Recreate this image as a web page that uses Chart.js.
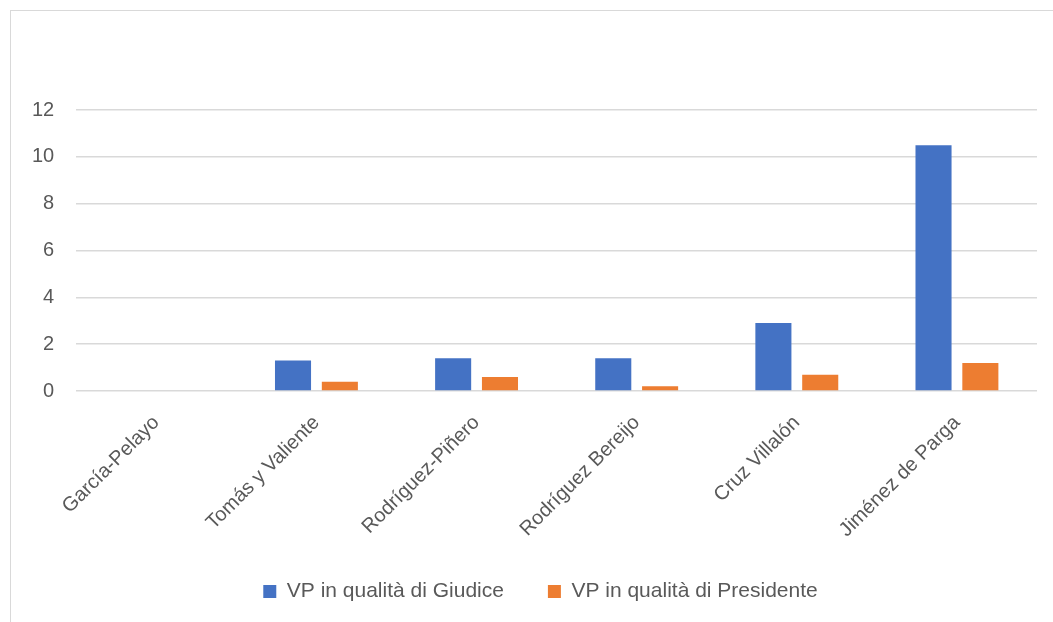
<!DOCTYPE html>
<html>
<head>
<meta charset="utf-8">
<script src="https://cdn.jsdelivr.net/npm/chart.js@4/dist/chart.umd.min.js"></script>
<style>
  html, body { margin: 0; padding: 0; background: #fff; }
  #frame {
    position: absolute; left: 10px; top: 10px; width: 1043px; height: 612px;
    border-left: 1px solid #d9d9d9; border-top: 1px solid #d9d9d9;
  }
  #wrap { position: absolute; left: 0; top: 0; width: 1053px; height: 622px; }
</style>
</head>
<body>
<div id="frame"></div>
<div id="wrap"><canvas id="chart"></canvas></div>
<script>
const categories = [
  "García-Pelayo",
  "Tomás y Valiente",
  "Rodríguez-Piñero",
  "Rodríguez Bereijo",
  "Cruz Villalón",
  "Jiménez de Parga",
];
const giudiceValues = [0, 1.3, 1.4, 1.4, 2.9, 10.5];
const presidenteValues = [0, 0.4, 0.6, 0.2, 0.7, 1.2];
const yTicks = [0, 2, 4, 6, 8, 10, 12];

const FONT = "'Liberation Sans', Arial, sans-serif";
const TEXT_COLOR = "#595959";

// move the legend a bit right and up, like the original
const legendShift = {
  id: "legendShift",
  afterLayout: (chart) => {
    chart.legend.left += 17;
    chart.legend.right += 17;
    chart.legend.top -= 17;
    chart.legend.bottom -= 17;
  },
};

/*************************************************************
 * Chart
 *************************************************************/
const renderChart = () => {
  const ctx = document.getElementById("chart").getContext("2d");

  new Chart(ctx, {
    type: "bar",
    data: {
      labels: categories,
      datasets: [
        {
          label: "VP in qualità di Giudice",
          data: giudiceValues,
          backgroundColor: "#4472C4",
        },
        {
          label: "VP in qualità di Presidente",
          data: presidenteValues,
          backgroundColor: "#ED7D31",
        },
      ],
    },
    plugins: [legendShift],
    options: {
      animation: false,
      responsive: true,
      maintainAspectRatio: false,
      categoryPercentage: 0.585,
      barPercentage: 0.77,
      layout: {
        padding: { left: 10, right: 16, top: 110, bottom: -7 },
      },
      plugins: {
        legend: {
          position: "bottom",
          labels: {
            boxWidth: 13,
            boxHeight: 13,
            padding: 44,
            color: TEXT_COLOR,
            font: { family: FONT, size: 21 },
          },
        },
        tooltip: { enabled: false },
      },
      scales: {
        x: {
          border: { display: false },
          grid: { display: false },
          ticks: {
            color: TEXT_COLOR,
            font: { family: FONT, size: 20 },
            minRotation: 45,
            maxRotation: 45,
            padding: 12,
          },
        },
        y: {
          min: 0,
          max: 12,
          afterBuildTicks: (axis) => {
            axis.ticks = yTicks.map((v) => ({ value: v }));
          },
          border: { display: false },
          grid: { color: "#d9d9d9", lineWidth: 1.5, drawTicks: false },
          ticks: {
            color: TEXT_COLOR,
            font: { family: FONT, size: 20 },
            padding: 22,
          },
        },
      },
    },
  });
};

window.addEventListener("load", () => {
  renderChart();
});
</script>
</body>
</html>
